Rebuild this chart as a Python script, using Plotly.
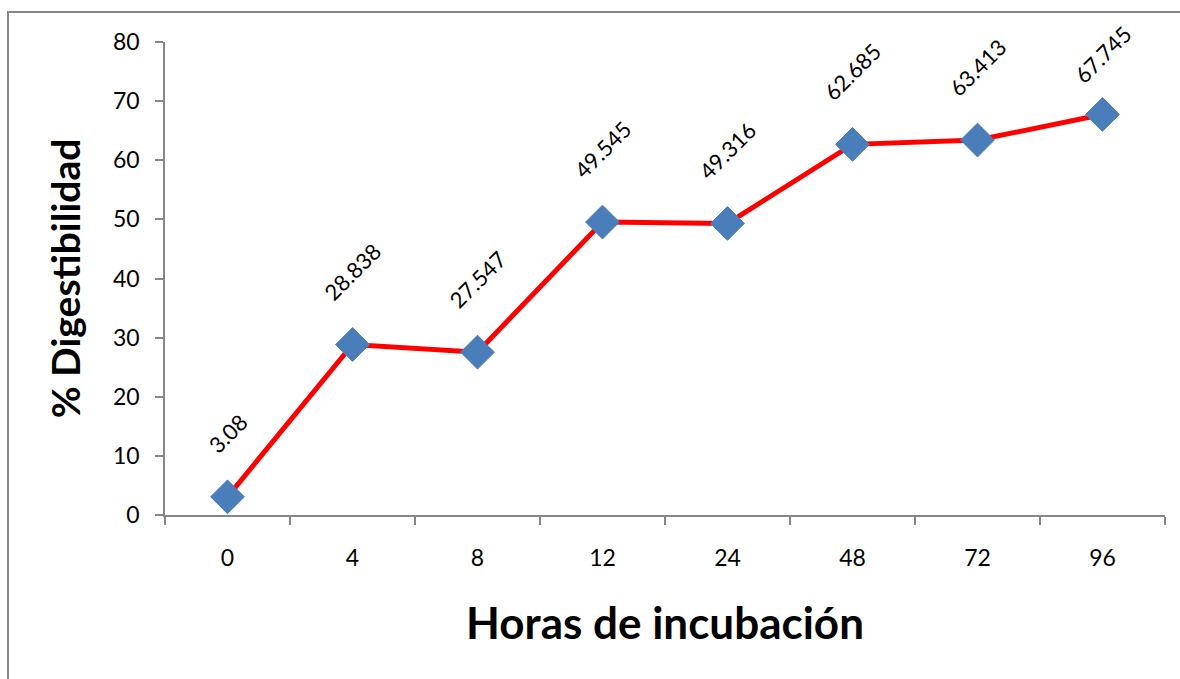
import plotly.graph_objects as go

horas = ["0", "4", "8", "12", "24", "48", "72", "96"]
digestibilidad = [3.08, 28.838, 27.547, 49.545, 49.316, 62.685, 63.413, 67.745]
etiquetas = ["3.08", "28.838", "27.547", "49.545", "49.316", "62.685", "63.413", "67.745"]

W, H = 1180, 679
ML, MR, MT, MB = 165, 15, 42, 164
PW, PH = W - ML - MR, H - MT - MB
YMAX = 80
FONT = "Lato"
LBL_SIZE = 22

fig = go.Figure()
fig.add_trace(go.Scatter(
    x=horas, y=digestibilidad, mode="lines+markers",
    line=dict(color="#FF0000", width=5),
    marker=dict(symbol="diamond", size=26, color="#4A7EBB",
                line=dict(color="#4A7EBB", width=1)),
    hoverinfo="x+y", showlegend=False,
))

# rotated data labels, kept inside the chart area like Excel does
for i, (v, t) in enumerate(zip(digestibilidad, etiquetas)):
    py = MT + (YMAX - v) / YMAX * PH
    box = (len(t) * 0.55 * LBL_SIZE + LBL_SIZE) / 2 ** 0.5
    shift = 36
    if py - shift - box < 24:
        shift = py - 24 - box
    fig.add_annotation(x=i, y=v, text=t, showarrow=False, textangle=-45,
                       xanchor="center", yanchor="bottom", yshift=shift,
                       font=dict(family=FONT, size=LBL_SIZE, color="#000000"))

# outer chart border
fig.add_shape(type="rect", xref="paper", yref="paper",
              x0=(8 - ML) / PW, x1=(W + 20 - ML) / PW,
              y0=-(H + 20 - MT - PH) / PH, y1=(MT + PH - 12) / PH,
              line=dict(color="#878787", width=2), layer="below")

axis_color = "#868686"
fig.update_layout(
    width=W, height=H,
    margin=dict(l=ML, r=MR, t=MT, b=MB),
    paper_bgcolor="white", plot_bgcolor="white",
    font=dict(family=FONT, color="#000000"),
    xaxis=dict(
        type="category", range=[-0.5, 7.5], tickson="boundaries",
        showline=True, linecolor=axis_color, linewidth=1.5,
        ticks="outside", ticklen=8, tickcolor=axis_color, tickwidth=1.5,
        showgrid=False, zeroline=False,
        tickfont=dict(family=FONT, size=23), ticklabelstandoff=22,
        title=dict(text="<b>Horas de incubación</b>", standoff=38,
                   font=dict(family=FONT, size=44)),
    ),
    yaxis=dict(
        range=[0, YMAX], dtick=10,
        showline=True, linecolor=axis_color, linewidth=1.5,
        ticks="outside", ticklen=8, tickcolor=axis_color, tickwidth=1.5,
        showgrid=False, zeroline=False,
        tickfont=dict(family=FONT, size=23), ticklabelstandoff=11,
        title=dict(text="<b>% Digestibilidad</b>", standoff=20,
                   font=dict(family=FONT, size=39)),
    ),
)

fig.write_html("out.html", config={"displayModeBar": False},
               post_script="document.body.style.margin='0';"
                           "document.body.style.overflow='hidden';")
